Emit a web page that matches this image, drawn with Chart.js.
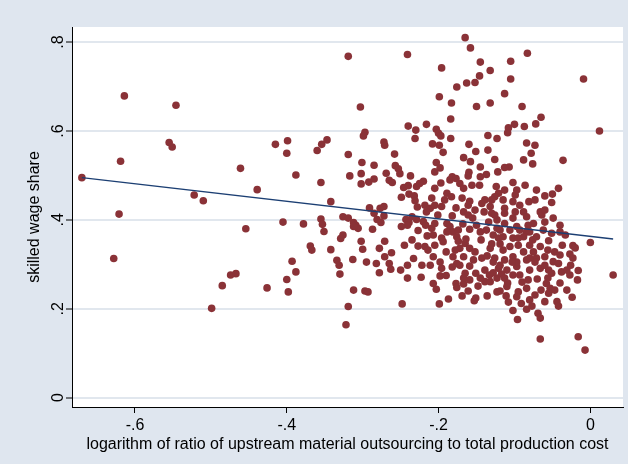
<!DOCTYPE html>
<html>
<head>
<meta charset="utf-8">
<script src="https://cdn.jsdelivr.net/npm/chart.js@4.4.1/dist/chart.umd.min.js"></script>
<style>
  html, body { margin: 0; padding: 0; background: #DFE6EF; }
  canvas { display: block; }
</style>
</head>
<body>
<canvas id="chart" width="628" height="464"></canvas>
<script>
// Axis ticks and their printed labels
const xTicks = [-0.6, -0.4, -0.2, 0];
const xTickLabels = ['-.6', '-.4', '-.2', '0'];
const yTicks = [0, 0.2, 0.4, 0.6, 0.8];
const yTickLabels = ['0', '.2', '.4', '.6', '.8'];

// log ratio of upstream material outsourcing to total production cost
const outsourcing = [
  -0.614, -0.546, -0.555, -0.551, -0.619, -0.670, -0.522, -0.510, -0.621, -0.628,
  -0.499, -0.415, -0.399, -0.400, -0.461, -0.388, -0.439, -0.354, -0.347, -0.360,
  -0.355, -0.342, -0.454, -0.405, -0.378, -0.355, -0.353, -0.351, -0.369, -0.367,
  -0.342, -0.393, -0.388, -0.400, -0.398, -0.474, -0.467, -0.485, -0.426, -0.319,
  -0.241, -0.303, -0.240, -0.230, -0.231, -0.297, -0.299, -0.272, -0.271, -0.319,
  -0.258, -0.301, -0.285, -0.257, -0.253, -0.251, -0.269, -0.237, -0.317, -0.302,
  -0.285, -0.292, -0.302, -0.265, -0.261, -0.246, -0.229, -0.240, -0.249, -0.239,
  -0.232, -0.231, -0.291, -0.285, -0.277, -0.272, -0.272, -0.281, -0.276, -0.326,
  -0.319, -0.312, -0.309, -0.306, -0.312, -0.287, -0.243, -0.239, -0.241, -0.249,
  -0.229, -0.227, -0.326, -0.329, -0.302, -0.271, -0.300, -0.278, -0.245, -0.262,
  -0.271, -0.233, -0.313, -0.334, -0.331, -0.295, -0.282, -0.265, -0.241, -0.263,
  -0.250, -0.278, -0.330, -0.241, -0.223, -0.312, -0.297, -0.293, -0.319, -0.248,
  -0.322, -0.165, -0.158, -0.145, -0.132, -0.196, -0.146, -0.152, -0.163, -0.176,
  -0.199, -0.183, -0.150, -0.132, -0.184, -0.216, -0.203, -0.200, -0.197, -0.184,
  -0.135, -0.123, -0.208, -0.199, -0.160, -0.194, -0.151, -0.135, -0.167, -0.158,
  -0.126, -0.203, -0.198, -0.205, -0.145, -0.160, -0.137, -0.161, -0.145, -0.122,
  -0.220, -0.225, -0.182, -0.185, -0.177, -0.172, -0.205, -0.167, -0.156, -0.146,
  -0.124, -0.189, -0.183, -0.139, -0.143, -0.132, -0.121, -0.167, -0.161, -0.152,
  -0.130, -0.123, -0.218, -0.211, -0.205, -0.196, -0.216, -0.235, -0.220, -0.209,
  -0.205, -0.189, -0.185, -0.181, -0.176, -0.150, -0.145, -0.137, -0.128, -0.121,
  -0.207, -0.196, -0.218, -0.194, -0.165, -0.159, -0.172, -0.222, -0.207, -0.181,
  -0.167, -0.152, -0.143, -0.132, -0.126, -0.154, -0.176, -0.196, -0.190, -0.151,
  -0.139, -0.121, -0.165, -0.207, -0.203, -0.177, -0.176, -0.167, -0.167, -0.139,
  -0.133, -0.132, -0.123, -0.123, -0.187, -0.199, -0.151, -0.153, -0.083, -0.105,
  -0.105, -0.113, -0.090, -0.065, -0.072, -0.087, -0.100, -0.108, -0.109, -0.084,
  -0.073, -0.078, -0.088, -0.076, -0.036, -0.107, -0.113, -0.102, -0.097, -0.071,
  -0.042, -0.050, -0.126, -0.115, -0.102, -0.081, -0.073, -0.051, -0.113, -0.126,
  -0.113, -0.099, -0.088, -0.084, -0.066, -0.064, -0.075, -0.102, -0.113, -0.123,
  -0.097, -0.093, -0.106, -0.084, -0.062, -0.051, -0.040, -0.040, -0.071, -0.055,
  -0.115, -0.102, -0.088, -0.115, -0.106, -0.095, -0.080, -0.066, -0.088, -0.075,
  -0.102, -0.113, -0.084, -0.071, -0.060, -0.040, -0.027, -0.049, -0.042, -0.023,
  -0.110, -0.097, -0.080, -0.093, -0.066, -0.055, -0.038, -0.027, -0.070, -0.128,
  -0.117, -0.102, -0.113, -0.110, -0.095, -0.084, -0.097, -0.091, -0.108, -0.102,
  -0.080, -0.073, -0.084, -0.058, -0.051, -0.053, -0.047, -0.055, -0.060, -0.044,
  -0.042, -0.069, -0.066, -0.096, -0.066, -0.017, -0.016, -0.031, -0.009, 0.012,
  -0.023, -0.020, 0.000, -0.016, 0.030, -0.007,
  -0.197, -0.169, -0.159, -0.228, -0.182, -0.168, -0.159, -0.134, -0.235, -0.227,
  -0.205, -0.144, -0.190, -0.211, -0.159, -0.148, -0.161, -0.169, -0.182, -0.136,
  -0.215, -0.086, -0.060, -0.093, -0.060, -0.080, -0.119, -0.056, -0.097, -0.060,
  -0.082, -0.040, -0.119, -0.073,
  -0.209, -0.164, -0.174, -0.113, -0.060, -0.037, -0.031, -0.024, -0.077, -0.130,
  -0.172, -0.109, -0.056, -0.026, -0.217, -0.189, -0.155, -0.140, -0.201, -0.177,
  -0.119, -0.082, -0.049, -0.033, -0.103, -0.128, -0.090, -0.065, -0.145, -0.159,
  -0.198, -0.136, -0.111, -0.080, -0.047, -0.095, -0.076,
  -0.192, -0.174, -0.214, -0.161, -0.130, -0.099, -0.198, -0.119, -0.178
];

// skilled wage share for the same observations
const wageShare = [
  0.679, 0.658, 0.574, 0.564, 0.532, 0.495, 0.456, 0.443, 0.413, 0.313,
  0.201, 0.570, 0.578, 0.550, 0.516, 0.501, 0.468, 0.570, 0.580, 0.556,
  0.484, 0.441, 0.380, 0.395, 0.391, 0.402, 0.390, 0.374, 0.341, 0.332,
  0.333, 0.307, 0.283, 0.266, 0.238, 0.276, 0.279, 0.252, 0.247, 0.768,
  0.772, 0.654, 0.611, 0.602, 0.583, 0.597, 0.589, 0.575, 0.568, 0.547,
  0.548, 0.529, 0.523, 0.522, 0.515, 0.504, 0.505, 0.499, 0.499, 0.504,
  0.492, 0.485, 0.481, 0.489, 0.484, 0.473, 0.475, 0.477, 0.451, 0.458,
  0.454, 0.443, 0.427, 0.415, 0.426, 0.430, 0.409, 0.401, 0.394, 0.407,
  0.404, 0.394, 0.388, 0.381, 0.385, 0.379, 0.401, 0.394, 0.388, 0.385,
  0.401, 0.376, 0.366, 0.358, 0.352, 0.352, 0.334, 0.336, 0.343, 0.326,
  0.317, 0.313, 0.311, 0.309, 0.298, 0.305, 0.302, 0.302, 0.298, 0.289,
  0.287, 0.281, 0.278, 0.269, 0.271, 0.242, 0.240, 0.238, 0.205, 0.211,
  0.164, 0.810, 0.787, 0.755, 0.736, 0.742, 0.724, 0.709, 0.708, 0.699,
  0.677, 0.663, 0.655, 0.663, 0.627, 0.615, 0.604, 0.595, 0.589, 0.583,
  0.590, 0.583, 0.571, 0.568, 0.570, 0.552, 0.554, 0.557, 0.540, 0.531,
  0.536, 0.529, 0.517, 0.508, 0.519, 0.507, 0.502, 0.499, 0.497, 0.508,
  0.487, 0.482, 0.497, 0.490, 0.493, 0.482, 0.471, 0.471, 0.478, 0.478,
  0.475, 0.460, 0.452, 0.445, 0.437, 0.430, 0.460, 0.418, 0.411, 0.422,
  0.415, 0.400, 0.433, 0.426, 0.433, 0.430, 0.418, 0.407, 0.396, 0.381,
  0.392, 0.392, 0.385, 0.373, 0.362, 0.388, 0.373, 0.377, 0.366, 0.359,
  0.366, 0.359, 0.340, 0.351, 0.347, 0.336, 0.336, 0.298, 0.317, 0.317,
  0.317, 0.328, 0.314, 0.336, 0.314, 0.310, 0.302, 0.291, 0.275, 0.280,
  0.287, 0.291, 0.280, 0.257, 0.244, 0.257, 0.248, 0.256, 0.269, 0.261,
  0.276, 0.261, 0.269, 0.238, 0.222, 0.211, 0.224, 0.218, 0.775, 0.757,
  0.717, 0.684, 0.655, 0.631, 0.616, 0.610, 0.615, 0.607, 0.596, 0.573,
  0.568, 0.550, 0.535, 0.526, 0.534, 0.519, 0.518, 0.484, 0.467, 0.467,
  0.471, 0.458, 0.452, 0.445, 0.441, 0.441, 0.445, 0.439, 0.426, 0.411,
  0.415, 0.418, 0.418, 0.407, 0.418, 0.411, 0.392, 0.404, 0.392, 0.381,
  0.385, 0.377, 0.377, 0.373, 0.377, 0.370, 0.388, 0.373, 0.362, 0.353,
  0.362, 0.359, 0.362, 0.332, 0.340, 0.343, 0.343, 0.340, 0.328, 0.328,
  0.317, 0.310, 0.310, 0.314, 0.317, 0.321, 0.323, 0.306, 0.302, 0.314,
  0.287, 0.295, 0.287, 0.276, 0.291, 0.287, 0.283, 0.276, 0.267, 0.281,
  0.278, 0.276, 0.269, 0.250, 0.238, 0.246, 0.227, 0.212, 0.215, 0.196,
  0.220, 0.231, 0.199, 0.257, 0.280, 0.246, 0.242, 0.235, 0.216, 0.216,
  0.206, 0.190, 0.179, 0.176, 0.132, 0.265, 0.137, 0.287, 0.717, 0.600,
  0.342, 0.337, 0.349, 0.286, 0.276, 0.107,
  0.483, 0.449, 0.442, 0.429, 0.409, 0.391, 0.379, 0.395, 0.355, 0.341,
  0.343, 0.355, 0.328, 0.298, 0.296, 0.251, 0.240, 0.229, 0.294, 0.319,
  0.364, 0.478, 0.454, 0.433, 0.395, 0.373, 0.346, 0.332, 0.305, 0.298,
  0.265, 0.258, 0.240, 0.305,
  0.449, 0.357, 0.352, 0.467, 0.422, 0.343, 0.242, 0.226, 0.206, 0.346,
  0.298, 0.258, 0.269, 0.298, 0.388, 0.373, 0.404, 0.418, 0.411, 0.427,
  0.377, 0.388, 0.404, 0.366, 0.305, 0.305, 0.260, 0.242, 0.269, 0.265,
  0.274, 0.229, 0.229, 0.314, 0.328, 0.359, 0.355,
  0.445, 0.377, 0.332, 0.433, 0.445, 0.456, 0.305, 0.298, 0.332
];

// Linear fit end points (over the range of the data)
const fitX = [-0.670, 0.030];
const fitY = [0.495, 0.357];

const FONT = "'Liberation Sans', Arial, Helvetica, sans-serif";
const BG = '#DFE6EF';
const GRID = '#E1E7EE';
const DOT = '#8A3237';
const LINE = '#1C3F73';

const points = outsourcing.map((x, i) => ({ x: x, y: wageShare[i] }));
const fitLine = fitX.map((x, i) => ({ x: x, y: fitY[i] }));

// Outer graph region and white plot region
const backdrop = {
  id: 'backdrop',
  beforeDraw(chart) {
    const { ctx, chartArea: a } = chart;
    ctx.save();
    ctx.fillStyle = BG;
    ctx.fillRect(0, 0, chart.width, chart.height);
    ctx.fillStyle = '#FFFFFF';
    ctx.fillRect(a.left, a.top, a.right - a.left, a.bottom - a.top);
    ctx.restore();
  }
};

// Vertical (rotated) value labels on the y axis
const yLabels = {
  id: 'yLabels',
  afterDraw(chart) {
    const { ctx } = chart;
    const y = chart.scales.y;
    ctx.save();
    ctx.font = '16px ' + FONT;
    ctx.fillStyle = '#000';
    ctx.textAlign = 'center';
    ctx.textBaseline = 'alphabetic';
    yTicks.forEach((v, i) => {
      const py = y.getPixelForValue(v);
      ctx.save();
      ctx.translate(62.5, py);
      ctx.rotate(-Math.PI / 2);
      ctx.fillText(yTickLabels[i], 0, 0);
      ctx.restore();
    });
    ctx.restore();
  }
};

new Chart(document.getElementById('chart'), {
  type: 'scatter',
  data: {
    datasets: [
      {
        type: 'line',
        data: fitLine,
        borderColor: LINE,
        borderWidth: 1.3,
        pointRadius: 0,
        fill: false,
        order: 0
      },
      {
        type: 'scatter',
        data: points,
        backgroundColor: DOT,
        borderWidth: 0,
        pointRadius: 3.8,
        order: 1
      }
    ]
  },
  options: {
    responsive: false,
    animation: false,
    devicePixelRatio: 1,
    events: [],
    layout: { padding: { top: 27, right: 5, bottom: 0, left: 0 } },
    plugins: { legend: { display: false }, tooltip: { enabled: false } },
    scales: {
      x: {
        type: 'linear',
        min: -0.683,
        max: 0.043,
        afterBuildTicks(scale) { scale.ticks = xTicks.map(v => ({ value: v })); },
        afterFit(scale) { scale.height = 57; },
        ticks: {
          callback: (v, i) => xTickLabels[i],
          font: { family: FONT, size: 16 },
          color: '#000',
          padding: 3,
          maxRotation: 0,
          autoSkip: false
        },
        grid: {
          drawOnChartArea: false,
          drawTicks: true,
          tickLength: 6,
          tickColor: '#000',
          tickWidth: 1
        },
        border: { display: true, color: '#000', width: 1 },
        title: {
          display: true,
          text: 'logarithm of ratio of upstream material outsourcing to total production cost',
          font: { family: FONT, size: 16 },
          color: '#000',
          padding: { top: 0, bottom: 10 }
        }
      },
      y: {
        type: 'linear',
        min: -0.021,
        max: 0.834,
        afterBuildTicks(scale) { scale.ticks = yTicks.map(v => ({ value: v })); },
        afterFit(scale) { scale.width = 72; },
        ticks: { display: false },
        grid: {
          color: GRID,
          lineWidth: 2,
          drawTicks: true,
          tickLength: 6,
          tickColor: '#000',
          tickWidth: 1
        },
        border: { display: true, color: '#000', width: 1 },
        title: {
          display: true,
          text: 'skilled wage share',
          font: { family: FONT, size: 16 },
          color: '#000',
          padding: { top: 25, bottom: 0 }
        }
      }
    }
  },
  plugins: [backdrop, yLabels]
});
</script>
</body>
</html>
